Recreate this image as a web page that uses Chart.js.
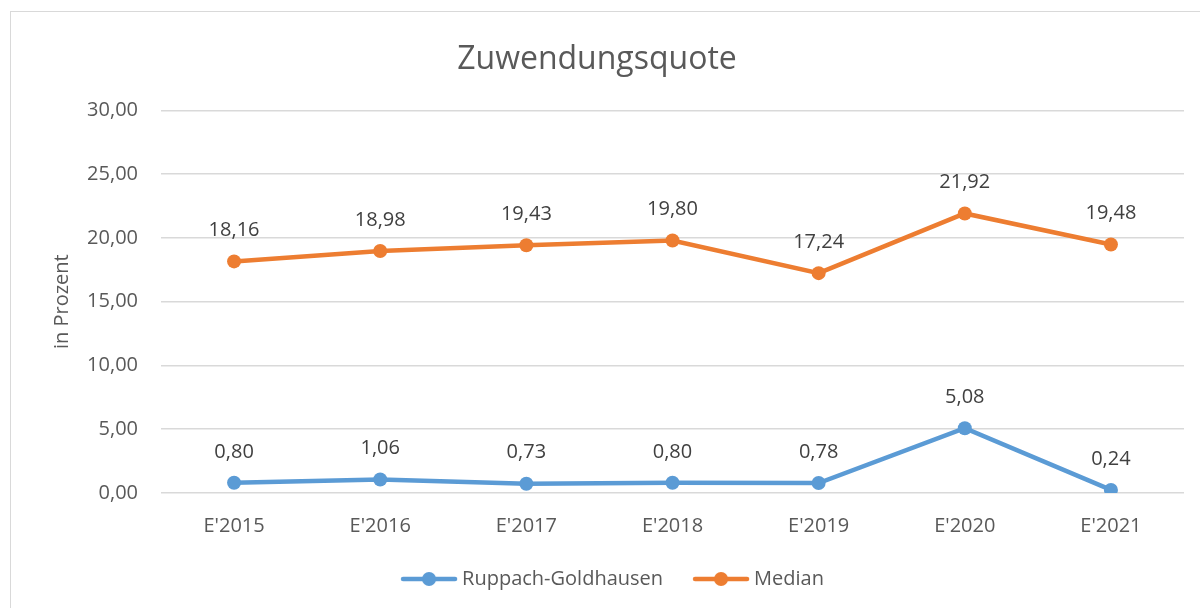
<!DOCTYPE html>
<html lang="de">
<head>
<meta charset="UTF-8">
<title>Zuwendungsquote</title>
<script src="https://cdn.jsdelivr.net/npm/chart.js"></script>
<style>
  html, body { margin: 0; padding: 0; background: #fff; overflow: hidden; }
  .chart-box { position: relative; width: 1200px; height: 608px; overflow: hidden; }
  .frame { position: absolute; left: 10px; top: 11px; width: 1400px; height: 800px; border: 1.5px solid #d9d9d9; }
  canvas { position: absolute; left: 0; top: 0; }
</style>
</head>
<body>
<div class="chart-box">
  <div class="frame"></div>
  <canvas id="quoteChart" width="1200" height="608"></canvas>
</div>
<script>
const categories = ["E'2015", "E'2016", "E'2017", "E'2018", "E'2019", "E'2020", "E'2021"];
const ruppachValues = [0.80, 1.06, 0.73, 0.80, 0.78, 5.08, 0.24];
const medianValues = [18.16, 18.98, 19.43, 19.80, 17.24, 21.92, 19.48];
const seriesNames = ['Ruppach-Goldhausen', 'Median'];
const yTicks = [0, 5, 10, 15, 20, 25, 30];

const colors = { blue: '#5B9BD5', orange: '#ED7D31', grid: '#d9d9d9', text: '#595959', label: '#404040' };
const FONT = "'Open Sans', sans-serif";

const fmt = v => v.toFixed(2).replace('.', ',');

// legend marker: line with a dot, like the office charts
function legendMarker(color) {
    const c = document.createElement('canvas');
    c.width = 58; c.height = 16;
    const g = c.getContext('2d');
    g.strokeStyle = color;
    g.lineWidth = 4.5;
    g.lineCap = 'round';
    g.beginPath(); g.moveTo(3, 8); g.lineTo(55, 8); g.stroke();
    g.fillStyle = color;
    g.beginPath(); g.arc(29, 8, 7, 0, Math.PI * 2); g.fill();
    return c;
}
const markers = [legendMarker(colors.blue), legendMarker(colors.orange)];

const valueLabels = {
    id: 'valueLabels',
    afterDatasetsDraw(chart) {
        const ctx = chart.ctx;
        ctx.save();
        ctx.font = '20px ' + FONT;
        ctx.fillStyle = colors.label;
        ctx.textAlign = 'center';
        ctx.textBaseline = 'middle';
        chart.data.datasets.forEach((ds, i) => {
            chart.getDatasetMeta(i).data.forEach((pt, j) => {
                ctx.fillText(fmt(ds.data[j]), pt.x, pt.y - 31);
            });
        });
        ctx.restore();
    }
};

// legend sits a bit right of the canvas centre in the original
const legendShift = {
    id: 'legendShift',
    afterLayout(chart) {
        chart.legend.left += 18;
        chart.legend.right += 18;
    }
};

new Chart(document.getElementById('quoteChart'), {
    type: 'line',
    data: {
        labels: categories,
        datasets: [
            {
                label: seriesNames[0],
                data: ruppachValues,
                borderColor: colors.blue,
                backgroundColor: colors.blue,
                borderWidth: 4.5,
                pointRadius: 7,
                pointHoverRadius: 7,
                pointBorderWidth: 0,
                tension: 0
            },
            {
                label: seriesNames[1],
                data: medianValues,
                borderColor: colors.orange,
                backgroundColor: colors.orange,
                borderWidth: 4.5,
                pointRadius: 7,
                pointHoverRadius: 7,
                pointBorderWidth: 0,
                tension: 0
            }
        ]
    },
    options: {
        responsive: false,
        animation: false,
        devicePixelRatio: 1,
        layout: { padding: { left: 10, right: 16, top: 11, bottom: 9 } },
        scales: {
            x: {
                offset: true,
                grid: { display: false },
                border: { display: false },
                ticks: { color: colors.text, font: { family: FONT, size: 20 }, padding: 13, maxRotation: 0 },
                afterFit(scale) { scale.height = 41; }
            },
            y: {
                min: 0,
                max: 30,
                afterBuildTicks(scale) { scale.ticks = yTicks.map(v => ({ value: v })); },
                grid: { color: colors.grid, lineWidth: 1.5, drawTicks: false },
                border: { display: false },
                ticks: {
                    color: colors.text,
                    font: { family: FONT, size: 20 },
                    padding: 23,
                    callback: v => fmt(v)
                },
                title: {
                    display: true,
                    text: 'in Prozent',
                    color: colors.text,
                    font: { family: FONT, size: 20 },
                    padding: { top: 40, bottom: 0 }
                },
                afterFit(scale) { scale.width = 151; }
            }
        },
        plugins: {
            title: {
                display: true,
                text: 'Zuwendungsquote',
                color: colors.text,
                font: { family: FONT, size: 32, weight: 'normal' },
                padding: { top: 30, bottom: 31 }
            },
            legend: {
                position: 'bottom',
                labels: {
                    color: colors.text,
                    font: { family: FONT, size: 20 },
                    usePointStyle: true,
                    pointStyleWidth: 46,
                    padding: 35,
                    generateLabels(chart) {
                        const items = Chart.defaults.plugins.legend.labels.generateLabels(chart);
                        items.forEach((it, i) => { it.pointStyle = markers[i]; });
                        return items;
                    }
                }
            },
            tooltip: { enabled: false }
        }
    },
    plugins: [valueLabels, legendShift]
});
</script>
</body>
</html>
